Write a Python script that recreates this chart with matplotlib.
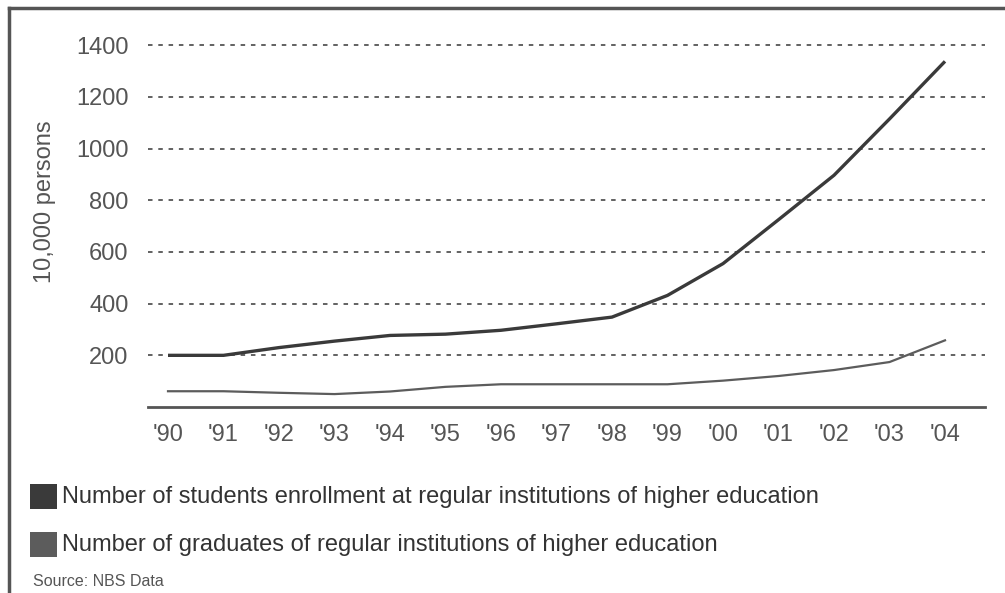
import matplotlib
matplotlib.use("Agg")
import matplotlib.pyplot as plt
from matplotlib.lines import Line2D
from matplotlib.patches import Rectangle

years = ["'90", "'91", "'92", "'93", "'94", "'95", "'96", "'97", "'98", "'99",
         "'00", "'01", "'02", "'03", "'04"]
enrollment = [200, 200, 230, 255, 277, 282, 297, 322, 348, 432, 555, 725, 897, 1115, 1338]
graduates = [61, 61, 55, 50, 60, 78, 88, 88, 88, 88, 102, 120, 143, 174, 258]
yticks = [200, 400, 600, 800, 1000, 1200, 1400]
series_names = ["Number of students enrollment at regular institutions of higher education",
                "Number of graduates of regular institutions of higher education"]
series_colors = ["#3a3a3a", "#5c5c5c"]

plt.rcParams['font.family'] = ['Liberation Sans', 'DejaVu Sans']

W, H = 1005, 593
fig = plt.figure(figsize=(W / 100, H / 100), dpi=100)
fig.patch.set_facecolor("white")

# axes placement in pixels
ax_left, ax_right = 148, 985
ax_bottom, ax_top = 407, 38
ax = fig.add_axes([ax_left / W, 1 - ax_bottom / H, (ax_right - ax_left) / W, (ax_bottom - ax_top) / H])

x = list(range(len(years)))
ax.plot(x, enrollment, color=series_colors[0], lw=2.4, solid_capstyle='butt', zorder=3)
ax.plot(x, graduates, color=series_colors[1], lw=1.6, zorder=3)

px_per_unit = 55.5
ax.set_xlim(-20 / px_per_unit, (ax_right - 168) / px_per_unit)
unit_px = (355 - 45) / 1200.0
ax.set_ylim(0, (ax_bottom - ax_top) / unit_px)

ax.set_yticks(yticks)
ax.set_yticklabels([str(v) for v in yticks])
ax.set_xticks(x)
ax.set_xticklabels(years)
ax.tick_params(axis='both', length=0, labelsize=17, colors="#555555")
ax.tick_params(axis='y', pad=14)
ax.tick_params(axis='x', pad=12)

for v in yticks:
    ax.axhline(v, color="#555555", lw=1.3, ls=(0, (2.5, 3.2)), zorder=1)

for s in ["top", "right", "left"]:
    ax.spines[s].set_visible(False)
ax.spines["bottom"].set_color("#555555")
ax.spines["bottom"].set_linewidth(2)

fig.text(45 / W, 1 - 202 / H, "10,000 persons", rotation=90, ha='center', va='center',
         fontsize=17, color="#555555")

# legend
leg_rows = [497, 545]
for name, col, yc in zip(series_names, series_colors, leg_rows):
    fig.add_artist(Rectangle((30 / W, 1 - (yc + 12) / H), 27 / W, 25 / H,
                             transform=fig.transFigure, facecolor=col, edgecolor='none'))
    fig.text(62 / W, 1 - yc / H, name, ha='left', va='center', fontsize=17, color="#333333")

fig.text(33 / W, 1 - 582 / H, "Source: NBS Data", ha='left', va='center', fontsize=11.5, color="#555555")

# frame lines
fig.add_artist(Line2D([9 / W, 1], [1 - 8 / H, 1 - 8 / H], transform=fig.transFigure,
                      color="#555555", lw=2.5))
fig.add_artist(Line2D([9 / W, 9 / W], [0, 1 - 8 / H], transform=fig.transFigure,
                      color="#555555", lw=2.5))

fig.savefig("out.png", dpi=100, facecolor="white")
